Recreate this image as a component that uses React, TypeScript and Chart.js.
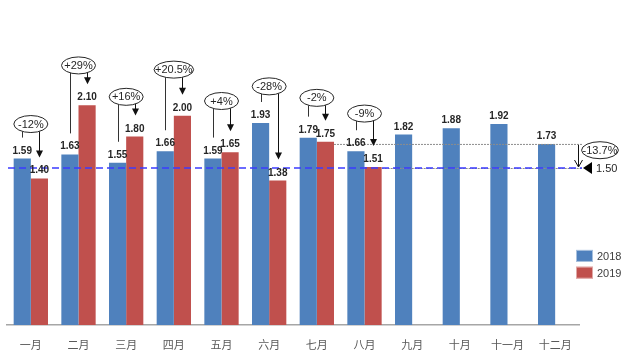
import React, { useEffect, useRef } from "react";
import { Chart, registerables } from "chart.js";

Chart.register(...registerables);

const months = ["一月", "二月", "三月", "四月", "五月", "六月", "七月", "八月", "九月", "十月", "十一月", "十二月"];
const values2018 = [1.59, 1.63, 1.55, 1.66, 1.59, 1.93, 1.79, 1.66, 1.82, 1.88, 1.92, 1.73];
const values2019 = [1.4, 2.1, 1.8, 2.0, 1.65, 1.38, 1.75, 1.51, null, null, null, null];
const changeLabels = ["-12%", "+29%", "+16%", "+20.5%", "+4%", "-28%", "-2%", "-9%"];
// level (in value units) where each change callout sits
const calloutLevels = [1.92, 2.48, 2.18, 2.44, 2.14, 2.28, 2.17, 2.02];
const targetValue = 1.5;
const targetLabel = "1.50";
const yearEndValue = 1.73;
const yearEndChange = "-13.7%";
const yearEndCalloutLevel = 1.67;
const seriesNames = ["2018", "2019"];

const BLUE = "#4F81BD";
const RED = "#C0504D";
const TEXT = "#262626";

function drawOval(ctx: CanvasRenderingContext2D, cx: number, cy: number, text: string) {
  ctx.font = '11px "Liberation Sans", Arial, sans-serif';
  const tw = ctx.measureText(text).width;
  const rx = Math.max(17, tw / 2 + 1);
  const ry = 8.5;
  ctx.beginPath();
  ctx.ellipse(cx, cy, rx, ry, 0, 0, Math.PI * 2);
  ctx.fillStyle = "#ffffff";
  ctx.fill();
  ctx.lineWidth = 1;
  ctx.strokeStyle = TEXT;
  ctx.stroke();
  ctx.fillStyle = TEXT;
  ctx.textAlign = "center";
  ctx.textBaseline = "middle";
  ctx.fillText(text, cx, cy + 0.5);
  return { rx, ry };
}

const overlay = {
  id: "overlay",
  afterDatasetsDraw(chart: any) {
    const ctx: CanvasRenderingContext2D = chart.ctx;
    const area = chart.chartArea;
    const y = chart.scales.y;
    const x = chart.scales.x;
    const m0 = chart.getDatasetMeta(0);
    const m1 = chart.getDatasetMeta(1);
    ctx.save();

    // gray helper lines on the right
    const y173 = y.getPixelForValue(yearEndValue);
    const y150 = y.getPixelForValue(targetValue);
    ctx.strokeStyle = "#8c8c8c";
    ctx.lineWidth = 1;
    ctx.setLineDash([2, 1]);
    const b7 = m1.data[6];
    ctx.beginPath();
    ctx.moveTo(b7.x + b7.width / 2, y173 + 0.5);
    ctx.lineTo(area.right + 3, y173 + 0.5);
    ctx.stroke();
    const b8 = m1.data[7];
    ctx.beginPath();
    ctx.moveTo(b8.x + b8.width / 2, y150 + 0.5);
    ctx.lineTo(area.right + 3, y150 + 0.5);
    ctx.stroke();
    ctx.setLineDash([]);

    // blue dashed target line
    ctx.strokeStyle = "#3b3bff";
    ctx.lineWidth = 1.5;
    ctx.setLineDash([7, 4]);
    ctx.beginPath();
    ctx.moveTo(area.left + 1, y150);
    ctx.lineTo(area.right + 3, y150);
    ctx.stroke();
    ctx.setLineDash([]);

    // value labels
    ctx.font = 'bold 10px "Liberation Sans", Arial, sans-serif';
    ctx.fillStyle = TEXT;
    ctx.textAlign = "center";
    ctx.textBaseline = "alphabetic";
    m0.data.forEach((bar: any, i: number) => {
      const v = values2018[i];
      if (v == null) return;
      ctx.fillText(v.toFixed(2), bar.x, bar.y - 5);
    });
    m1.data.forEach((bar: any, i: number) => {
      const v = values2019[i];
      if (v == null) return;
      ctx.fillText(v.toFixed(2), bar.x, bar.y - 5);
    });

    // change callouts
    changeLabels.forEach((label, i) => {
      const bb = m0.data[i];
      const rb = m1.data[i];
      const cx = x.getPixelForValue(i);
      const cy = y.getPixelForValue(calloutLevels[i]);
      ctx.font = '11px "Liberation Sans", Arial, sans-serif';
      const tw = ctx.measureText(label).width;
      const rx = Math.max(17, tw / 2 + 1);
      const ry = 8.5;
      const edge = (px: number) => {
        const dx = Math.min(Math.abs(px - cx), rx - 0.5);
        return cy + ry * Math.sqrt(1 - (dx / rx) * (dx / rx));
      };
      ctx.strokeStyle = "#333";
      ctx.lineWidth = 1;
      // left line to 2018 bar
      const lx = Math.round(bb.x) + 0.5;
      ctx.beginPath();
      ctx.moveTo(lx, edge(lx));
      ctx.lineTo(lx, bb.y - 21);
      ctx.stroke();
      // arrow to 2019 bar
      const ax = Math.round(rb.x) + 0.5;
      const tip = rb.y - 21;
      ctx.strokeStyle = "#111";
      ctx.beginPath();
      ctx.moveTo(ax, edge(ax));
      ctx.lineTo(ax, tip - 5);
      ctx.stroke();
      ctx.fillStyle = "#111";
      ctx.beginPath();
      ctx.moveTo(ax, tip);
      ctx.lineTo(ax - 3.5, tip - 7);
      ctx.lineTo(ax + 3.5, tip - 7);
      ctx.closePath();
      ctx.fill();
      drawOval(ctx, cx, cy, label);
    });

    // year-end drop annotation
    const vx = area.right - 1 + 0.5;
    ctx.strokeStyle = "#111";
    ctx.lineWidth = 1;
    ctx.beginPath();
    ctx.moveTo(vx, y173 + 1);
    ctx.lineTo(vx, y150 - 1);
    ctx.moveTo(vx - 4, y150 - 8);
    ctx.lineTo(vx, y150 - 1);
    ctx.lineTo(vx + 4, y150 - 8);
    ctx.stroke();
    drawOval(ctx, area.right + 21, y.getPixelForValue(yearEndCalloutLevel), yearEndChange);

    // target marker
    ctx.fillStyle = "#000";
    ctx.beginPath();
    ctx.moveTo(area.right + 4, y150);
    ctx.lineTo(area.right + 13, y150 - 6);
    ctx.lineTo(area.right + 13, y150 + 6);
    ctx.closePath();
    ctx.fill();
    ctx.font = '11px "Liberation Sans", Arial, sans-serif';
    ctx.fillStyle = TEXT;
    ctx.textAlign = "left";
    ctx.textBaseline = "middle";
    ctx.fillText(targetLabel, area.right + 17, y150 + 1);

    // legend
    const lgX = area.right - 3;
    const lgY = [y.getPixelForValue(0.66), y.getPixelForValue(0.5)];
    const cols = [BLUE, RED];
    seriesNames.forEach((name, k) => {
      ctx.fillStyle = cols[k];
      ctx.fillRect(lgX, lgY[k] - 6, 17, 12);
      ctx.strokeStyle = "rgba(255,255,255,0.5)";
      ctx.lineWidth = 1;
      ctx.strokeRect(lgX + 0.5, lgY[k] - 5.5, 16, 11);
      ctx.fillStyle = "#404040";
      ctx.font = '11px "Liberation Sans", Arial, sans-serif';
      ctx.textAlign = "left";
      ctx.textBaseline = "middle";
      ctx.fillText(name, lgX + 21, lgY[k] + 1);
    });

    ctx.restore();
  },
};

export default function App() {
  const ref = useRef<HTMLCanvasElement>(null);
  useEffect(() => {
    if (!ref.current) return;
    const chart = new Chart(ref.current, {
      type: "bar",
      data: {
        labels: months,
        datasets: [
          { label: seriesNames[0], data: values2018, backgroundColor: BLUE, borderWidth: 0 },
          { label: seriesNames[1], data: values2019 as any, backgroundColor: RED, borderWidth: 0 },
        ],
      },
      options: {
        responsive: false,
        devicePixelRatio: 1,
        animation: false,
        datasets: { bar: { categoryPercentage: 0.72, barPercentage: 1.0 } },
        layout: { padding: { top: 11, left: 7, right: 44, bottom: 0 } },
        plugins: { legend: { display: false }, tooltip: { enabled: false } },
        scales: {
          x: {
            grid: { display: false },
            border: { display: true, color: "#a6a6a6", width: 1.5 },
            ticks: {
              color: "#595959",
              padding: 5,
              font: { size: 11, family: '"Noto Sans CJK SC", sans-serif' },
            },
            afterFit: (scale: any) => {
              scale.height = 30;
            },
          },
          y: {
            display: false,
            min: 0,
            max: 3,
          },
        },
      },
      plugins: [overlay],
    } as any);
    return () => chart.destroy();
  }, []);
  return (
    <div style={{ position: "absolute", left: 0, top: 0, width: 623, height: 355, background: "#fff" }}>
      <canvas ref={ref} width={623} height={355} style={{ width: 623, height: 355, display: "block" }} />
    </div>
  );
}
